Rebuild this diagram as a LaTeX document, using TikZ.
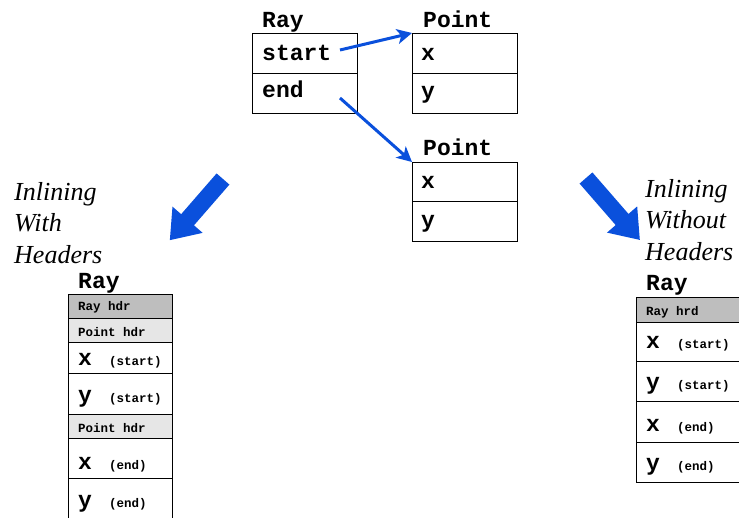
\documentclass[tikz,border=0pt]{standalone}
\usepackage{fontspec}
\setmainfont{Liberation Serif}
\setmonofont{Liberation Mono}
\usetikzlibrary{arrows.meta}
\definecolor{arrowblue}{HTML}{0A50DC}
\definecolor{hdrdark}{HTML}{BEBEBE}
\definecolor{hdrlight}{HTML}{E6E6E6}
\tikzset{
  cell/.style={draw, line width=1pt, anchor=north west, inner sep=0pt, outer sep=0pt},
  bigtt/.style={font=\fontsize{23}{27}\selectfont\ttfamily\bfseries, inner sep=0pt, anchor=base west},
  smalltt/.style={font=\fontsize{12.5}{14}\selectfont\ttfamily\bfseries, inner sep=0pt, anchor=base west},
  lbl/.style={font=\fontsize{26}{31.5}\selectfont\itshape, align=left, inner sep=0pt, anchor=base west},
  link/.style={draw=arrowblue, line width=3pt, -{Stealth[length=15pt,width=15pt,inset=4pt]}},
  bigarrow/.style={fill=arrowblue, draw=none}
}
\begin{document}
\begin{tikzpicture}[x=1pt,y=-1pt]
\useasboundingbox (0,0) rectangle (739,517);
\clip (0,0) rectangle (739,517);
% top Ray
\node[bigtt] (tray) at (262,27) {Ray};
\node[cell, minimum width=105pt, minimum height=40pt] (rstart) at (252,33) {};
\node[cell, minimum width=105pt, minimum height=40pt] (rend) at (252,73) {};
\node[bigtt] (tstart) at (262,60) {start};
\node[bigtt] (tend) at (262,97) {end};
% Point 1
\node[bigtt] (tp1) at (423,27) {Point};
\node[cell, minimum width=105pt, minimum height=40pt] (p1) at (412,33) {};
\node[cell, minimum width=105pt, minimum height=40pt] (p1y) at (412,73) {};
\node[bigtt] (p1xt) at (421,60) {x};
\node[bigtt] (p1yt) at (421,98) {y};
% Point 2
\node[bigtt] (tp2) at (423,155) {Point};
\node[cell, minimum width=105pt, minimum height=39.5pt] (p2) at (412,162) {};
\node[cell, minimum width=105pt, minimum height=39.5pt] (p2y) at (412,201.5) {};
\node[bigtt] (p2xt) at (421,188) {x};
\node[bigtt] (p2yt) at (421,227) {y};
% links
\coordinate (s1) at (340,50);
\coordinate (s2) at (340,98);
\draw[link] (s1) -- (p1.north west);
\draw[link] (s2) -- (p2.north west);
% big arrows
\begin{scope}[shift={(223,179)}, rotate=229]
  \fill[bigarrow] (0,8.5) -- (54,8.5) -- (54,20) -- (81,0) -- (54,-20) -- (54,-8.5) -- (0,-8.5) -- cycle;
\end{scope}
\begin{scope}[shift={(586,178)}, rotate=-49]
  \fill[bigarrow] (0,8.5) -- (55,8.5) -- (55,20) -- (82,0) -- (55,-20) -- (55,-8.5) -- (0,-8.5) -- cycle;
\end{scope}
% labels
\node[lbl] (lwith) at (14,263) {Inlining\\With\\Headers};
\node[lbl] (lwithout) at (645,260) {Inlining\\Without\\Headers};
% left box
\node[bigtt] (lray) at (78,288) {Ray};
\node[cell, fill=hdrdark, minimum width=104pt, minimum height=24pt] (lc1) at (68,294) {};
\node[cell, fill=hdrlight, minimum width=104pt, minimum height=24pt] (lc2) at (68,318) {};
\node[cell, minimum width=104pt, minimum height=31pt] (lc3) at (68,342) {};
\node[cell, minimum width=104pt, minimum height=41pt] (lc4) at (68,373) {};
\node[cell, fill=hdrlight, minimum width=104pt, minimum height=24pt] (lc5) at (68,414) {};
\node[cell, minimum width=104pt, minimum height=40pt] (lc6) at (68,438) {};
\node[cell, minimum width=104pt, minimum height=50pt] (lc7) at (68,478) {};
\node[smalltt] (lt1) at (78,310) {Ray hdr};
\node[smalltt] (lt2) at (78,336) {Point hdr};
\node[bigtt] (lt3) at (78,365) {x};
\node[smalltt] (lt3b) at (109,365) {(start)};
\node[bigtt] (lt4) at (78,402) {y};
\node[smalltt] (lt4b) at (109,402) {(start)};
\node[smalltt] (lt5) at (78,432) {Point hdr};
\node[bigtt] (lt6) at (78,469) {x};
\node[smalltt] (lt6b) at (109,469) {(end)};
\node[bigtt] (lt7) at (78,507) {y};
\node[smalltt] (lt7b) at (109,507) {(end)};
% right box
\node[bigtt] (rray) at (646,290) {Ray};
\node[cell, fill=hdrdark, minimum width=130pt, minimum height=25pt] (rc1) at (636,297) {};
\node[cell, minimum width=130pt, minimum height=39pt] (rc2) at (636,322) {};
\node[cell, minimum width=130pt, minimum height=40pt] (rc3) at (636,361) {};
\node[cell, minimum width=130pt, minimum height=41pt] (rc4) at (636,401) {};
\node[cell, minimum width=130pt, minimum height=40pt] (rc5) at (636,442) {};
\node[smalltt] (rt1) at (646,315) {Ray hrd};
\node[bigtt] (rt2) at (646,348) {x};
\node[smalltt] (rt2b) at (677,348) {(start)};
\node[bigtt] (rt3) at (646,389) {y};
\node[smalltt] (rt3b) at (677,389) {(start)};
\node[bigtt] (rt4) at (646,431) {x};
\node[smalltt] (rt4b) at (677,431) {(end)};
\node[bigtt] (rt5) at (646,470) {y};
\node[smalltt] (rt5b) at (677,470) {(end)};
\end{tikzpicture}
\end{document}
